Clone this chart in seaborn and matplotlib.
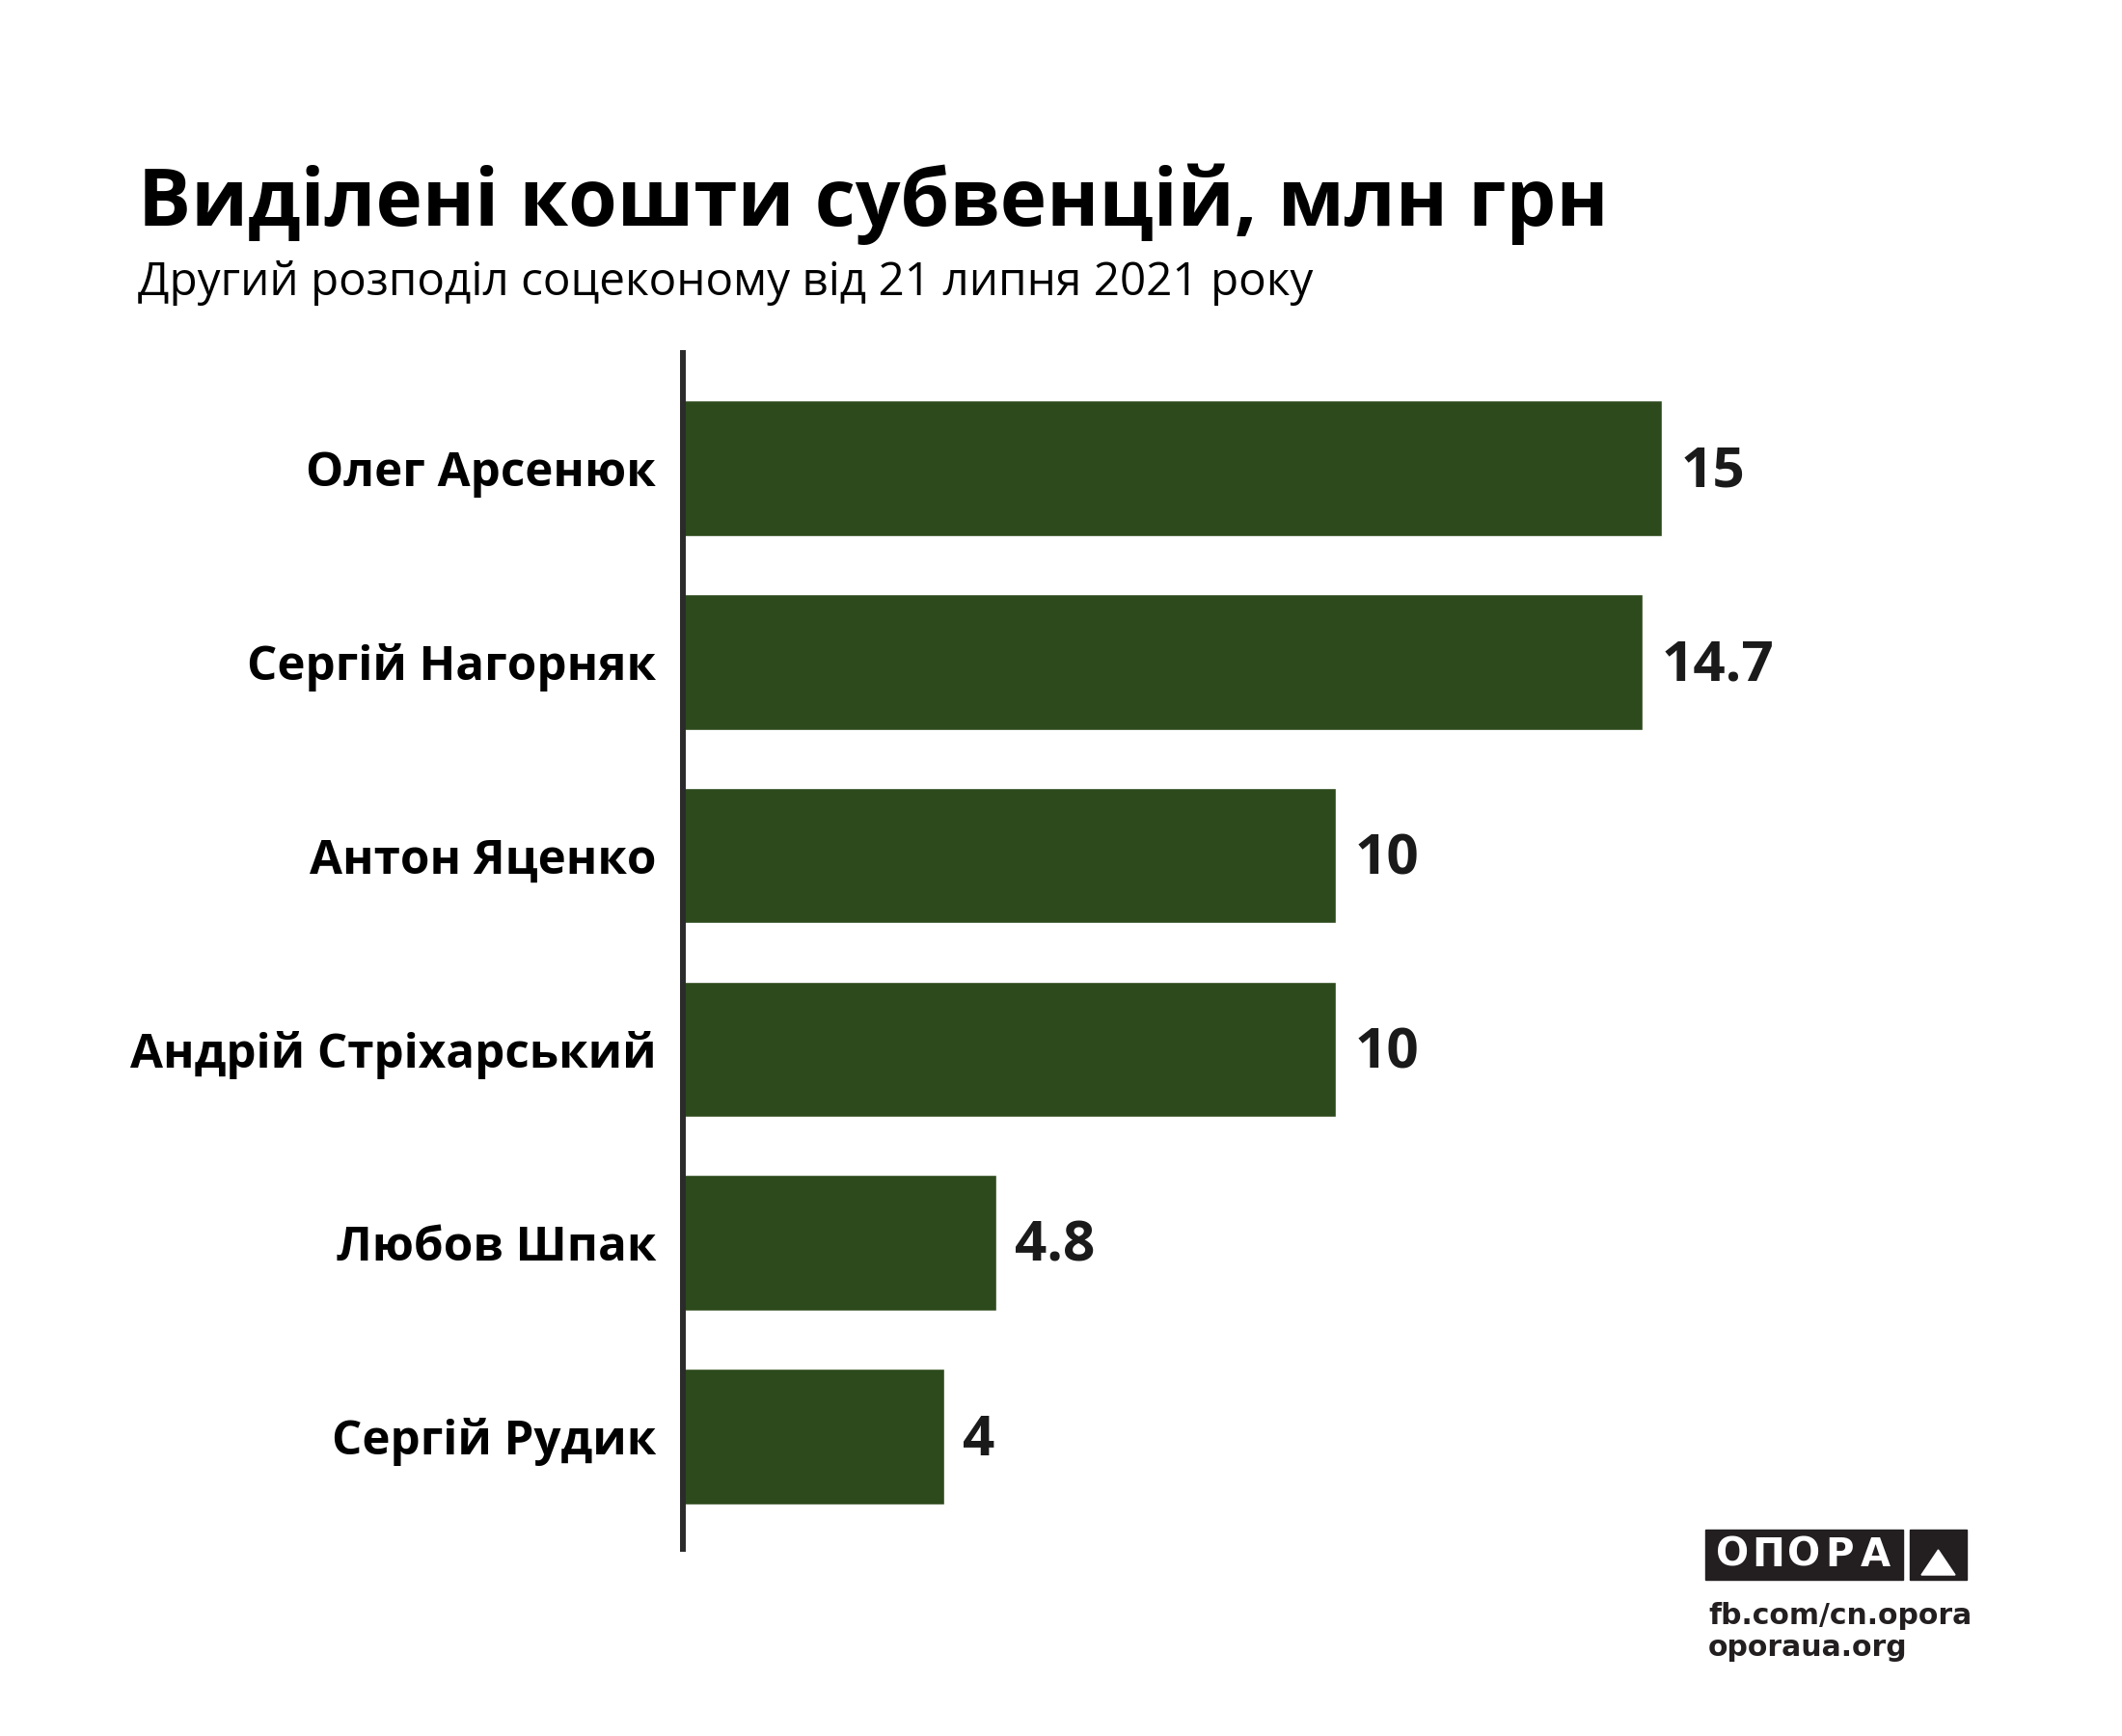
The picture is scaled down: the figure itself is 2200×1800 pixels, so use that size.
import matplotlib
matplotlib.use("Agg")
import matplotlib.pyplot as plt
import pandas as pd
import seaborn as sns

# Chart data
names = ["Олег Арсенюк", "Сергій Нагорняк", "Антон Яценко",
         "Андрій Стріхарський", "Любов Шпак", "Сергій Рудик"]
amounts = [15, 14.7, 10, 10, 4.8, 4]

title = "Виділені кошти субвенцій, млн грн"
subtitle = "Другий розподіл соцеконому від 21 липня 2021 року"

bar_color = "#2d4a1c"

sns.set_theme(style="white")
plt.rcParams["font.family"] = ["Open Sans", "DejaVu Sans"]

df = pd.DataFrame({"name": names, "amount": amounts})

fig = plt.figure(figsize=(22, 18), dpi=100)
fig.patch.set_facecolor("white")
ax = fig.add_axes([0.3218, 0.1078, 0.6327, 0.6889])

sns.barplot(data=df, x="amount", y="name", orient="h", color=bar_color,
            width=0.70, saturation=1, ax=ax)

ax.set_xlim(0, 20.56)
ax.set_ylim(5.58, -0.595)
ax.set_xlabel("")
ax.set_ylabel("")
ax.set_xticks([])

for s in ["top", "right", "bottom"]:
    ax.spines[s].set_visible(False)
ax.spines["left"].set_color("#2b2b2b")
ax.spines["left"].set_linewidth(4.3)

ax.tick_params(axis="y", length=0, pad=20)
for lbl in ax.get_yticklabels():
    lbl.set_fontsize(35.5)
    lbl.set_fontweight("bold")
    lbl.set_color("black")

vals = ax.bar_label(ax.containers[0], labels=[f"{v:g}" for v in amounts],
                    padding=14, fontsize=42, fontweight="bold",
                    color="#1a1a1a")
for t in vals:
    t.xyann = (14, -3)

# Titles
fig.text(143 / 2200, 1 - 234 / 1800, title, fontsize=59, fontweight="bold",
         color="black", ha="left", va="baseline")
fig.text(143 / 2200, 1 - 306 / 1800, subtitle, fontsize=34.3,
         color="black", ha="left", va="baseline")

# OPORA logo
lx0, lx1, ly0, ly1 = 1768, 1973, 1586, 1638
fig.patches.append(plt.Rectangle((lx0 / 2200, 1 - ly1 / 1800),
                                 (lx1 - lx0) / 2200, (ly1 - ly0) / 1800,
                                 transform=fig.transFigure, color="#231f20"))
tx0, tx1 = 1980, 2039
fig.patches.append(plt.Rectangle((tx0 / 2200, 1 - ly1 / 1800),
                                 (tx1 - tx0) / 2200, (ly1 - ly0) / 1800,
                                 transform=fig.transFigure, color="#231f20"))
fig.patches.append(plt.Polygon([(1992 / 2200, 1 - 1633 / 1800),
                                (2027 / 2200, 1 - 1633 / 1800),
                                (2009.5 / 2200, 1 - 1607 / 1800)],
                               closed=True, transform=fig.transFigure,
                               color="white"))
letters = "ОПОРА"
for i, ch in enumerate(letters):
    cx = 1778 + 185 * (i + 0.5) / len(letters)
    fig.text(cx / 2200, 1 - 1624 / 1800, ch, fontsize=29, fontweight="bold",
             color="white", ha="center", va="baseline",
             family=["DejaVu Sans"])

fig.text(1771 / 2200, 1 - 1684 / 1800, "fb.com/cn.opora", fontsize=21.5,
         fontweight="bold", color="#231f20", ha="left", va="baseline",
         family=["DejaVu Sans"])
fig.text(1771 / 2200, 1 - 1717 / 1800, "oporaua.org", fontsize=21.5,
         fontweight="bold", color="#231f20", ha="left", va="baseline",
         family=["DejaVu Sans"])

fig.savefig("out.png", dpi=100, facecolor="white")
